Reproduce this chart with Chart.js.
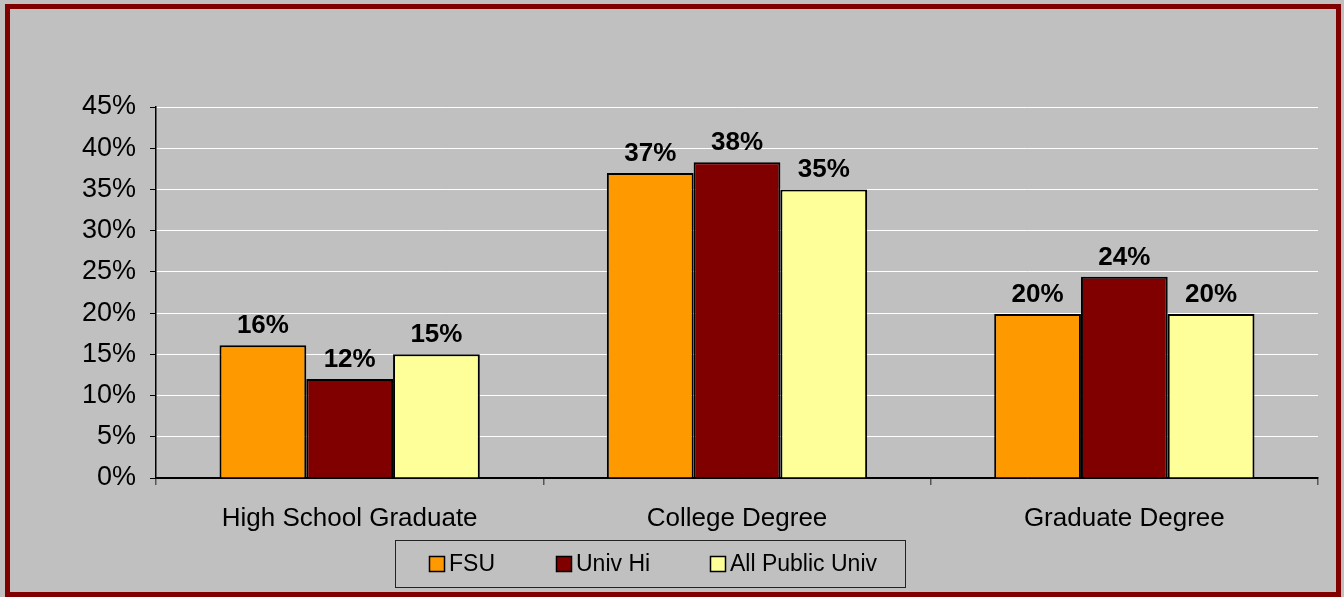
<!DOCTYPE html>
<html>
<head>
<meta charset="utf-8">
<script src="https://cdn.jsdelivr.net/npm/chart.js@4"></script>
<style>
  html, body { margin: 0; padding: 0; background: #c0c0c0; }
  #wrap { width: 1344px; height: 597px; }
</style>
</head>
<body>
<div id="wrap"><canvas id="chart" width="1344" height="597"></canvas></div>
<script>
// data
const categories = ['High School Graduate', 'College Degree', 'Graduate Degree'];
const fsu = [16.1, 37.0, 19.9];
const univHi = [12.0, 38.3, 24.4];
const allPublic = [15.0, 35.0, 19.9];
const seriesNames = ['FSU', 'Univ Hi', 'All Public Univ'];
const seriesColors = ['#ff9900', '#800000', '#ffff99'];
const yTicks = [0, 5, 10, 15, 20, 25, 30, 35, 40, 45];

const FONT = '"Liberation Sans", Arial, sans-serif';

// frame + background
const framePlugin = {
  id: 'frame',
  beforeDraw(chart) {
    const ctx = chart.ctx;
    ctx.save();
    ctx.fillStyle = '#c0c0c0';
    ctx.fillRect(0, 0, chart.width, chart.height);
    ctx.strokeStyle = '#800000';
    ctx.lineWidth = 5;
    ctx.strokeRect(7.5, 6.5, 1331, 588);
    ctx.restore();
  }
};

// value labels above each bar
const valueLabels = {
  id: 'valueLabels',
  afterDatasetsDraw(chart) {
    const ctx = chart.ctx;
    ctx.save();
    ctx.font = 'bold 26px ' + FONT;
    ctx.fillStyle = '#000';
    ctx.textAlign = 'center';
    ctx.textBaseline = 'alphabetic';
    chart.data.datasets.forEach((ds, i) => {
      chart.getDatasetMeta(i).data.forEach((bar, j) => {
        ctx.fillText(Math.round(ds.data[j]) + '%', bar.x, bar.y - 12);
      });
    });
    ctx.restore();
  }
};

// boxed legend under the axis
const boxLegend = {
  id: 'boxLegend',
  afterDraw(chart) {
    const ctx = chart.ctx;
    const itemX = [429, 556, 710];
    ctx.save();
    ctx.strokeStyle = '#222';
    ctx.lineWidth = 1;
    ctx.strokeRect(395.5, 540.5, 510, 47);
    ctx.font = '23px ' + FONT;
    ctx.textBaseline = 'middle';
    ctx.textAlign = 'left';
    chart.data.datasets.forEach((ds, i) => {
      const x = itemX[i];
      ctx.fillStyle = ds.backgroundColor;
      ctx.fillRect(x, 556, 16, 16);
      ctx.strokeStyle = '#000';
      ctx.lineWidth = 1.5;
      ctx.strokeRect(x + 0.5, 556.5, 15, 15);
      ctx.fillStyle = '#000';
      ctx.fillText(ds.label, x + 20, 565);
    });
    ctx.restore();
  }
};

const datasets = [fsu, univHi, allPublic].map((values, i) => ({
  label: seriesNames[i],
  data: values,
  backgroundColor: seriesColors[i],
  borderColor: '#000',
  borderWidth: 2,
  borderSkipped: 'bottom',
  categoryPercentage: 0.672,
  barPercentage: 1.0
}));

new Chart(document.getElementById('chart'), {
  type: 'bar',
  data: { labels: categories, datasets: datasets },
  options: {
    responsive: false,
    animation: false,
    layout: { padding: { top: 107, right: 26, left: 0, bottom: 0 } },
    plugins: {
      legend: { display: false },
      tooltip: { enabled: false }
    },
    scales: {
      x: {
        grid: {
          offset: true,
          drawOnChartArea: false,
          tickLength: 7,
          color: '#555',
          lineWidth: 1.5
        },
        border: { color: '#000', width: 1.5 },
        ticks: {
          color: '#000',
          padding: 18,
          font: { family: FONT, size: 26 }
        },
        afterFit(scale) { scale.height = 119; }
      },
      y: {
        min: 0,
        max: 45,
        afterBuildTicks(scale) { scale.ticks = yTicks.map(v => ({ value: v })); },
        grid: {
          color: ctx => (ctx.tick && ctx.tick.value === 0 ? '#000' : '#fff'),
          tickColor: '#000',
          tickLength: 6,
          lineWidth: 1
        },
        border: { color: '#000', width: 1.5 },
        ticks: {
          color: '#000',
          padding: 14,
          font: { family: FONT, size: 27 },
          callback: v => v + '%'
        },
        afterFit(scale) { scale.width = 156; }
      }
    }
  },
  plugins: [framePlugin, valueLabels, boxLegend]
});
</script>
</body>
</html>
